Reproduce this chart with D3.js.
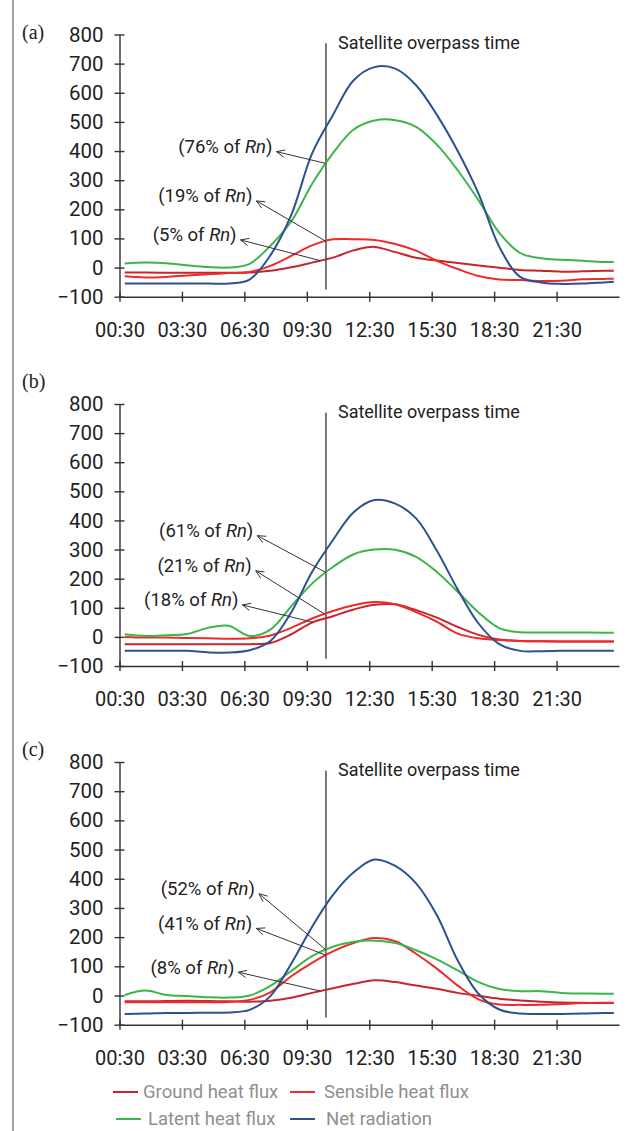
<!DOCTYPE html>
<html><head><meta charset="utf-8">
<script src="https://cdn.jsdelivr.net/npm/d3@7"></script>
<style>html,body{margin:0;padding:0;background:#fff}svg{display:block}</style>
</head><body>
<svg id="chart" width="628" height="1131"></svg>
<script>
// ---------------- data ----------------
const hours = [0.5,1.5,2.5,3.5,4.5,5.5,6.5,7.5,8.5,9.5,10.5,11.5,12.5,13.5,14.5,15.5,16.5,17.5,18.5,19.5,20.5,21.5,22.5,23.5,24];
const xTickLabels = ["00:30","03:30","06:30","09:30","12:30","15:30","18:30","21:30"];
const xTickHours = [0.25,3.25,6.25,9.25,12.25,15.25,18.25,21.25];
const yTicks = [-100,0,100,200,300,400,500,600,700,800];
const overpassHour = 10.17;
const overpassLabel = "Satellite overpass time";
const panelLabels = ["(a)","(b)","(c)"];
const seriesNames = ["Ground heat flux","Sensible heat flux","Latent heat flux","Net radiation"];

// panel (a)
const groundA   = [-17,-17,-18,-18,-18,-18,-17,-11,1,17,34,59,71,53,34,24,16,7,-1,-8,-11,-14,-13,-11,-11];
const sensibleA = [-30,-34,-32,-27,-23,-19,-15,6,40,76,97,97,95,81,58,23,-5,-29,-41,-43,-46,-45,-40,-39,-38];
const latentA   = [14,17,15,8,2,0,13,75,158,287,392,474,505,506,483,422,334,231,119,50,32,27,23,19,19];
const netA      = [-55,-55,-55,-55,-55,-55,-41,42,180,391,523,643,688,683,626,524,400,254,71,-32,-51,-56,-55,-51,-49];
// panel (b)
const groundB   = [-25,-25,-25,-25,-25,-25,-25,-21,9,49,71,94,110,112,92,66,34,7,-9,-14,-15,-16,-16,-16,-16];
const sensibleB = [0,-2,-2,-4,-5,-6,-5,5,31,63,89,109,120,112,85,52,11,-5,-11,-14,-15,-16,-16,-16,-16];
const latentB   = [9,3,6,10,31,38,3,25,105,183,240,284,300,299,275,223,155,84,30,16,15,15,15,14,14];
const netB      = [-48,-48,-48,-48,-53,-54,-46,-14,84,223,332,428,470,458,407,296,163,46,-25,-48,-49,-48,-48,-48,-48];
// panel (c)
const groundC   = [-20,-20,-19,-18,-19,-20,-21,-18,-8,9,25,40,52,46,34,23,9,-1,-11,-17,-21,-24,-25,-26,-26];
const sensibleC = [-23,-23,-23,-23,-23,-22,-15,11,66,112,151,180,197,186,143,92,34,-13,-31,-32,-32,-29,-26,-25,-25];
const latentC   = [2,17,2,-2,-6,-7,0,33,84,135,167,184,188,180,155,124,86,46,22,15,15,9,7,6,6];
const netC      = [-63,-62,-60,-60,-59,-58,-49,-2,109,235,344,422,466,444,384,275,120,6,-48,-62,-63,-63,-62,-60,-60];

// percentage annotations: label text and the series each one points to
const annotTextA = ["76%","19%","5%"];
const annotTextB = ["61%","21%","18%"];
const annotTextC = ["52%","41%","8%"];
const annotSeries = [2,1,0]; // latent, sensible, ground

// ---------------- layout / style ----------------
const colors = ["#c7242c","#ee2a2b","#3cb54a","#2b5191"];
const panels = [
  {series:[groundA,sensibleA,latentA,netA], annot:annotTextA, top:34.5, bottom:296.7,
   label:{h:[7.6,6.64,5.875], v:[415,246,112]}, tailH:[10.17,10.17,9.9], labelY:32},
  {series:[groundB,sensibleB,latentB,netB], annot:annotTextB, top:404, bottom:666,
   label:{h:[6.68,6.6,5.96], v:[365,244.5,127]}, tailH:[10.17,10.1,9.55], labelY:381},
  {series:[groundC,sensibleC,latentC,netC], annot:annotTextC, top:762, bottom:1024.7,
   label:{h:[6.76,6.63,5.77], v:[366,247,97]}, tailH:[10.17,10.17,9.9], labelY:749}
];
const FONT = "Roboto, 'Noto Sans', sans-serif";
const svg = d3.select("#chart");
svg.append("rect").attr("width",628).attr("height",1131).attr("fill","#fff");
svg.append("line").attr("x1",13).attr("x2",13).attr("y1",0).attr("y2",1131)
   .attr("stroke","#444").attr("stroke-width",1);

const x = d3.scaleLinear().domain([0.25,24.25]).range([119.5,619]);

panels.forEach((p,pi)=>{
  const y = d3.scaleLinear().domain([-100,800]).range([p.bottom,p.top]);
  const g = svg.append("g");

  // panel letter
  g.append("text").attr("x",22).attr("y",p.labelY).attr("dy","0.35em")
   .attr("font-family","'Liberation Serif','Times New Roman',serif").attr("font-size",20)
   .attr("fill","#222").text(panelLabels[pi]);

  // y axis
  const ya = g.append("g").attr("transform",`translate(${x(0.25)},0)`)
    .call(d3.axisLeft(y).tickValues(yTicks).tickSizeOuter(0).tickSizeInner(5).tickPadding(11));
  ya.select(".domain").attr("stroke","#333").attr("stroke-width",1.4);
  ya.selectAll(".tick line").attr("x1",5).attr("stroke","#333").attr("stroke-width",1.4);
  ya.selectAll(".tick text").attr("font-family",FONT).attr("font-size",20.5).attr("fill","#222");

  // x axis
  const xa = g.append("g").attr("transform",`translate(0,${y(-100)})`)
    .call(d3.axisBottom(x).tickValues(xTickHours).tickFormat((d,i)=>xTickLabels[i])
      .tickSizeOuter(0).tickSizeInner(5).tickPadding(21));
  xa.select(".domain").attr("stroke","#333").attr("stroke-width",1.4);
  xa.selectAll(".tick line").attr("y1",-5).attr("stroke","#333").attr("stroke-width",1.4);
  xa.selectAll(".tick text").attr("font-family",FONT).attr("font-size",20).attr("fill","#222");

  // overpass line
  const xo = x(overpassHour);
  g.append("line").attr("x1",xo).attr("x2",xo).attr("y1",y(770)).attr("y2",y(-75))
   .attr("stroke","#222").attr("stroke-width",1.2);
  g.append("text").attr("x",xo+12).attr("y",y(770)).attr("dy","0.3em")
   .attr("font-family",FONT).attr("font-size",18).attr("fill","#222").text(overpassLabel);

  // series lines
  const line = d3.line().x((d,i)=>x(hours[i])).y(d=>y(d)).curve(d3.curveCatmullRom.alpha(0.5));
  p.series.forEach((s,si)=>{
    g.append("path").datum(s).attr("d",line).attr("fill","none")
     .attr("stroke",colors[si]).attr("stroke-width",2);
  });

  // annotations
  const valueAt = (s,h)=>{
    const i = d3.bisectRight(hours,h)-1;
    const t = (h-hours[i])/(hours[i+1]-hours[i]);
    return s[i]+(s[i+1]-s[i])*t;
  };
  p.annot.forEach((txt,ai)=>{
    const lx = x(p.label.h[ai]), ly = y(p.label.v[ai]);
    const t = g.append("text").attr("x",lx).attr("y",ly).attr("dy","0.35em")
      .attr("text-anchor","end").attr("font-family",FONT).attr("font-size",18.5).attr("fill","#222");
    t.append("tspan").text(`(${txt} of `);
    t.append("tspan").attr("font-style","italic").text("Rn");
    t.append("tspan").text(")");
    const tipX = lx+4, tipY = ly+5;
    const s = p.series[annotSeries[ai]];
    const th = p.tailH[ai];
    const tailX = x(th), tailY = y(valueAt(s,th));
    g.append("line").attr("x1",tailX).attr("y1",tailY).attr("x2",tipX).attr("y2",tipY)
     .attr("stroke","#333").attr("stroke-width",1);
    const ang = Math.atan2(tailY-tipY, tailX-tipX);
    const L = 9, a = 0.42;
    const hp = d3.path();
    hp.moveTo(tipX+L*Math.cos(ang-a), tipY+L*Math.sin(ang-a));
    hp.lineTo(tipX,tipY);
    hp.lineTo(tipX+L*Math.cos(ang+a), tipY+L*Math.sin(ang+a));
    g.append("path").attr("d",hp.toString()).attr("fill","none").attr("stroke","#333").attr("stroke-width",1);
  });
});

// legend
const legendItems = [
  {i:0, lx:113, tx:143, y:1092},
  {i:1, lx:290, tx:324, y:1092},
  {i:2, lx:116, tx:148, y:1119},
  {i:3, lx:290, tx:326, y:1119}
];
const lg = svg.append("g");
legendItems.forEach(it=>{
  lg.append("line").attr("x1",it.lx).attr("x2",it.lx+25).attr("y1",it.y).attr("y2",it.y)
    .attr("stroke",colors[it.i]).attr("stroke-width",2);
  lg.append("text").attr("x",it.tx).attr("y",it.y).attr("dy","0.35em")
    .attr("font-family",FONT).attr("font-size",18.5).attr("fill","#8f8f8f").text(seriesNames[it.i]);
});
</script>
</body></html>
